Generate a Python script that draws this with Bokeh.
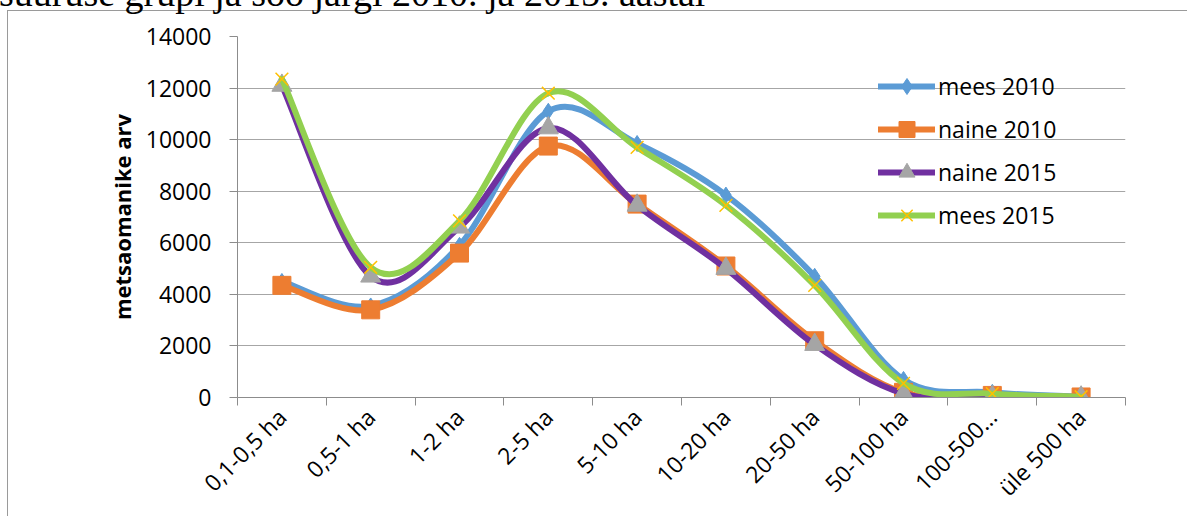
import numpy as np
from math import pi
from bokeh.plotting import figure
from bokeh.layouts import column
from bokeh.models import (Range1d, FixedTicker, Legend, LegendItem, ColumnDataSource,
                          Div, InlineStyleSheet)
from bokeh.embed import file_html
from bokeh.resources import INLINE

# ---- data ----
categories = ["0,1-0,5 ha", "0,5-1 ha", "1-2 ha", "2-5 ha", "5-10 ha",
              "10-20 ha", "20-50 ha", "50-100 ha", "100-500…", "üle 500 ha"]
mees_2010 = [4500, 3550, 5900, 11100, 9850, 7850, 4700, 700, 200, 30]
naine_2010 = [4350, 3400, 5600, 9750, 7500, 5100, 2200, 200, 80, 20]
naine_2015 = [12100, 4700, 6600, 10450, 7450, 5000, 2050, 150, 30, 10]
mees_2015 = [12350, 5050, 6850, 11800, 9700, 7450, 4350, 550, 150, 30]
y_ticks = [0, 2000, 4000, 6000, 8000, 10000, 12000, 14000]
heading = "suuruse grupi ja soo järgi 2010. ja 2015. aastal"

FONT = "Open Sans"

def smooth_segments(vals):
    ys = np.asarray(vals, dtype=float)
    xs = np.arange(len(ys), dtype=float)
    n = len(ys)
    d = dict(x0=[], y0=[], x1=[], y1=[], cx0=[], cy0=[], cx1=[], cy1=[])
    for i in range(n - 1):
        a, b = max(i - 1, 0), min(i + 2, n - 1)
        d["x0"].append(xs[i]); d["y0"].append(ys[i])
        d["x1"].append(xs[i + 1]); d["y1"].append(ys[i + 1])
        d["cx0"].append(xs[i] + (xs[i + 1] - xs[a]) / 6)
        d["cy0"].append(ys[i] + (ys[i + 1] - ys[a]) / 6)
        d["cx1"].append(xs[i + 1] - (xs[b] - xs[i]) / 6)
        d["cy1"].append(ys[i + 1] - (ys[b] - ys[i]) / 6)
    return ColumnDataSource(d)

p = figure(width=1187, height=516, output_backend="svg", toolbar_location=None,
           x_range=Range1d(-0.5, len(categories) - 0.5), y_range=Range1d(0, 14000),
           min_border_left=237, min_border_right=62, min_border_top=36,
           min_border_bottom=118)
p.outline_line_color = None
p.background_fill_color = "white"
p.border_fill_color = None

# y axis
p.yaxis.ticker = FixedTicker(ticks=y_ticks)
p.yaxis.major_tick_out = 8
p.yaxis.major_tick_in = 0
p.yaxis.minor_tick_out = 0
p.yaxis.minor_tick_in = 0
p.yaxis.axis_line_color = "#8c8c8c"
p.yaxis.major_tick_line_color = "#8c8c8c"
p.yaxis.major_label_text_font = FONT
p.yaxis.major_label_text_font_size = "23px"
p.yaxis.major_label_text_color = "black"
p.yaxis.major_label_standoff = 18
p.yaxis.axis_label = "metsaomanike arv"
p.yaxis.axis_label_text_font = FONT
p.yaxis.axis_label_text_font_style = "bold"
p.yaxis.axis_label_text_font_size = "22px"
p.yaxis.axis_label_text_color = "black"
p.yaxis.axis_label_standoff = 6
p.ygrid.ticker = FixedTicker(ticks=y_ticks)
p.ygrid.grid_line_color = "#a6a6a6"
p.ygrid.grid_line_width = 1
p.xgrid.visible = False

# x axis
p.xaxis.ticker = FixedTicker(ticks=list(range(len(categories))),
                             minor_ticks=[i - 0.5 for i in range(len(categories) + 1)])
p.xaxis.major_label_overrides = {i: c for i, c in enumerate(categories)}
p.xaxis.major_tick_out = 0
p.xaxis.major_tick_in = 0
p.xaxis.minor_tick_out = 8
p.xaxis.minor_tick_in = 0
p.xaxis.minor_tick_line_color = "#8c8c8c"
p.xaxis.axis_line_color = "#8c8c8c"
p.xaxis.major_label_orientation = pi / 4
p.xaxis.major_label_text_font = FONT
p.xaxis.major_label_text_font_size = "23px"
p.xaxis.major_label_text_color = "black"
p.xaxis.major_label_standoff = 7

series = [
    ("mees 2010", mees_2010, "#5B9BD5", dict(marker="diamond", size=16, fill_color="#5B9BD5", line_color="#5B9BD5")),
    ("naine 2010", naine_2010, "#ED7D31", dict(marker="square", size=18, fill_color="#ED7D31", line_color="#ED7D31")),
    ("naine 2015", naine_2015, "#7030A0", dict(marker="triangle", size=20, fill_color="#A5A5A5", line_color="#A5A5A5")),
    ("mees 2015", mees_2015, "#92D050", dict(marker="x", size=18, fill_color=None, line_color="#FFC000", line_width=1.5)),
]

items = []
idx = list(range(len(categories)))
for name, vals, col, mk in series:
    src = smooth_segments(vals)
    rl = p.bezier(x0="x0", y0="y0", x1="x1", y1="y1", cx0="cx0", cy0="cy0",
                  cx1="cx1", cy1="cy1", source=src, line_color=col, line_width=6,
                  line_cap="round")
    rm = p.scatter(x=idx, y=vals, **mk)
    items.append(LegendItem(label=name, renderers=[rl, rm]))

legend = Legend(items=items, location=(641, 162), border_line_alpha=0,
                background_fill_alpha=0, padding=0, margin=0, spacing=3,
                glyph_width=57, glyph_height=40, label_standoff=3,
                label_text_font=FONT, label_text_font_size="23px",
                label_text_color="black")
p.add_layout(legend)

# document text above the chart, cut off by the top of the page
head_css = InlineStyleSheet(css=":host, :host * { overflow: visible !important; }")
head = Div(text=('<div style="position:relative; top:-26px; left:-1px; '
                 'font-family:\'Liberation Serif\'; font-size:38px; line-height:38px; '
                 'white-space:nowrap; color:#000;">' + heading + '</div>'),
           width=1187, height=0, margin=0, stylesheets=[head_css])

layout = column(head, p, spacing=0,
                styles={"background": "linear-gradient(#9a9a9a, #9a9a9a) 7px 10px / 100% 1px no-repeat, "
                                      "linear-gradient(#9a9a9a, #9a9a9a) 7px 10px / 1px 100% no-repeat, #ffffff"})

open("out.html", "w").write(file_html(layout, INLINE))
